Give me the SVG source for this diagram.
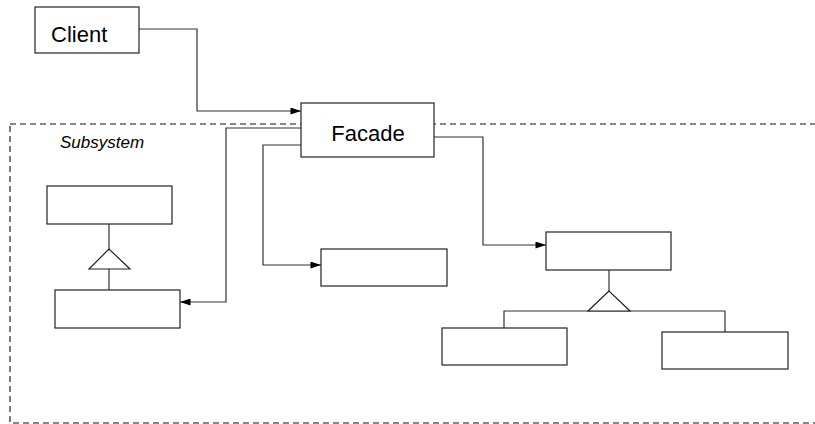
<svg xmlns="http://www.w3.org/2000/svg" width="815" height="424" viewBox="0 0 815 424">
<style>
.box{fill:#fff;stroke:#222;stroke-width:1.2}
.con{fill:none;stroke:#333;stroke-width:1.2}
.lbl{font-family:"Liberation Sans",Arial,sans-serif;font-size:22px;fill:#000}
.sub{font-family:"Liberation Sans",Arial,sans-serif;font-size:17px;font-style:italic;fill:#000}
.tri{fill:#fff;stroke:#222;stroke-width:1.2}
</style>
<defs>
<marker id="arr" viewBox="0 0 12 8" refX="12" refY="4" markerWidth="12" markerHeight="7" markerUnits="userSpaceOnUse" orient="auto">
<path d="M0,0 L12,4 L0,8 Z" fill="#000"/>
</marker>
</defs>
<rect x="10" y="124" width="820" height="299" fill="none" stroke="#111" stroke-width="1.1" stroke-dasharray="6,4"/>
<text class="sub" x="60" y="148">Subsystem</text>
<g id="connectors">
<polyline class="con" points="139,29 197,29 197,111 301,111" marker-end="url(#arr)"/>
<polyline class="con" points="301,128 226,128 226,302 180,302" marker-end="url(#arr)"/>
<polyline class="con" points="301,145 263,145 263,265 321,265" marker-end="url(#arr)"/>
<polyline class="con" points="434,137 483,137 483,245 546,245" marker-end="url(#arr)"/>
<line class="con" x1="109" y1="224" x2="109" y2="249"/>
<line class="con" x1="109" y1="269" x2="109" y2="290"/>
<polygon class="tri" points="109,249 89,269 130,269"/>
<line class="con" x1="609" y1="270" x2="609" y2="291"/>
<polyline class="con" points="504,328 504,311 725,311 725,332"/>
<polygon class="tri" points="609,291 588,311 630,311"/>
</g>
<g id="client"><rect class="box" x="35" y="7" width="104" height="46"/><text class="lbl" x="51" y="42">Client</text></g>
<g id="facade"><rect class="box" x="301" y="103" width="133" height="54"/><text class="lbl" x="368" y="141" text-anchor="middle">Facade</text></g>
<g id="leftTop"><rect class="box" x="47" y="186" width="125" height="38"/></g>
<g id="leftBottom"><rect class="box" x="55" y="290" width="125" height="38"/></g>
<g id="middle"><rect class="box" x="321" y="249" width="126" height="37"/></g>
<g id="rightTop"><rect class="box" x="546" y="232" width="125" height="38"/></g>
<g id="rightBottomLeft"><rect class="box" x="442" y="328" width="125" height="37"/></g>
<g id="rightBottomRight"><rect class="box" x="662" y="332" width="126" height="37"/></g>
</svg>
